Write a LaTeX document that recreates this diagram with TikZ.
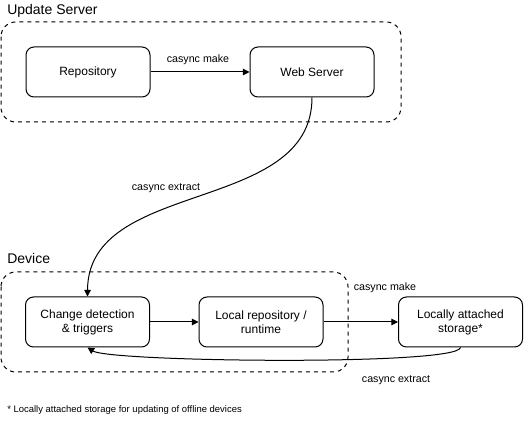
\documentclass[tikz,border=0pt]{standalone}
\usepackage{fontspec}
\setmainfont{Liberation Sans}
\usetikzlibrary{arrows.meta}
\begin{document}
\begin{tikzpicture}[x=0.75pt,y=-0.75pt,
  box/.style={draw, line width=0.75pt, rounded corners=6pt, minimum width=93pt, minimum height=37.5pt, align=center, font=\fontsize{9}{10.5}\selectfont, inner sep=0pt},
  group/.style={draw, dashed, line width=0.75pt, rounded corners=11pt},
  lbl/.style={font=\fontsize{8}{9.5}\selectfont, inner sep=0pt},
  ttl/.style={font=\fontsize{10.5}{12}\selectfont, inner sep=0pt, anchor=west},
  arr/.style={line width=0.75pt, -{Triangle[length=5pt,width=5pt]}}
]
\useasboundingbox (0,0) rectangle (525,427);
\draw[group] (1,22) rectangle (401,122);
\draw[group] (1,272) rectangle (348,372);
\node[ttl] (t1) at (7,11) {Update Server};
\node[ttl] (t2) at (7,258) {Device};
\node[box] (repo) at (88,72) {Repository};
\node[box] (web) at (312,72) {Web Server};
\node[box] (chg) at (87.5,322) {Change detection\\\& triggers};
\node[box] (loc) at (261,322) {Local repository /\\runtime};
\node[box] (sto) at (460.5,322) {Locally attached\\storage*};
\draw[arr] (repo) -- (web);
\node[lbl] (l1) at (198,60) {casync make};
\draw[arr] (web.south) .. controls (312,215) and (88,178) .. (chg.north);
\node[lbl] (l2) at (166,188) {casync extract};
\draw[arr] (chg) -- (loc);
\draw[arr] (loc) -- (sto);
\node[lbl] (l3) at (385,288) {casync make};
\draw[arr] (sto.south) .. controls (458,366) and (110,362) .. (chg.south);
\node[lbl] (l4) at (396,380) {casync extract};
\node[inner sep=0pt, anchor=west, font=\fontsize{7.1}{9}\selectfont] (fn) at (7,410) {* Locally attached storage for updating of offline devices};
\end{tikzpicture}
\end{document}
